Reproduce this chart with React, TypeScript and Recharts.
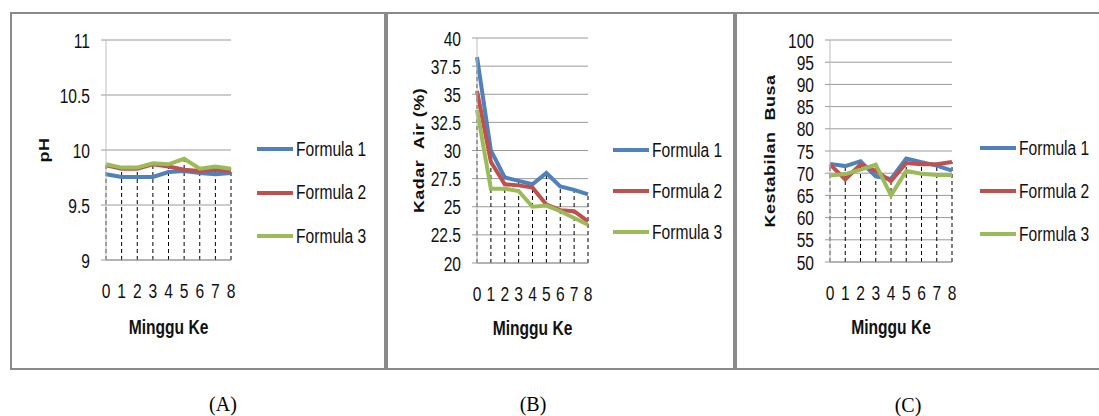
import React from "react";
import { CartesianGrid, Label, Legend, Line, LineChart, ReferenceLine, XAxis, YAxis } from "recharts";

const weeks = ["0", "1", "2", "3", "4", "5", "6", "7", "8"];

// pH
const phF1 = [9.78, 9.755, 9.755, 9.755, 9.8, 9.81, 9.79, 9.78, 9.79];
const phF2 = [9.86, 9.83, 9.83, 9.87, 9.85, 9.82, 9.81, 9.82, 9.81];
const phF3 = [9.87, 9.84, 9.84, 9.88, 9.87, 9.92, 9.83, 9.85, 9.83];
const phTicks = [9, 9.5, 10, 10.5, 11];

// Kadar air (%)
const airF1 = [38.3, 30, 27.6, 27.3, 27.0, 28.0, 26.8, 26.5, 26.1];
const airF2 = [35.3, 29, 27.0, 26.9, 26.7, 25.2, 24.7, 24.6, 23.7];
const airF3 = [33.6, 26.6, 26.6, 26.4, 25.0, 25.1, 24.6, 24.0, 23.4];
const airTicks = [20, 22.5, 25, 27.5, 30, 32.5, 35, 37.5, 40];

// Kestabilan busa
const busaF1 = [72.1, 71.6, 72.7, 69.3, 68.7, 73.3, 72.5, 71.7, 70.6];
const busaF2 = [72.0, 68.6, 72.0, 70.5, 68.2, 72.3, 72.0, 72.0, 72.5];
const busaF3 = [69.5, 69.8, 70.8, 71.9, 65.0, 70.5, 69.9, 69.6, 69.6];
const busaTicks = [50, 55, 60, 65, 70, 75, 80, 85, 90, 95, 100];

const seriesNames = ["Formula 1", "Formula 2", "Formula 3"];
const colors = ["#4F81BD", "#C0504D", "#9BBB59"];

const sans = '"Liberation Sans", Arial, sans-serif';
// no narrow font installed, so squeeze Liberation Sans (the original is also stretched tall)
const SX = 0.78;
const SY = 1.05;

const TOP = 12;
const BOTTOM = 370;
const AXIS_H = 90;

function buildRows(a: number[], b: number[], c: number[]) {
  return weeks.map((w, i) => ({
    week: w,
    f1: a[i],
    f2: b[i],
    f3: c[i],
    top: Math.max(a[i], b[i], c[i]),
  }));
}

const YTick = (props: any) => {
  const { x, y, payload } = props;
  return (
    <text transform={`translate(${x},${y}) scale(${SX},${SY})`} textAnchor="end" dy="0.36em" fontFamily={sans} fontSize={20} fill="#111">
      {payload.value}
    </text>
  );
};

const XTick = (props: any) => {
  const { x, y, payload } = props;
  return (
    <text transform={`translate(${x},${y}) scale(${SX},${SY})`} textAnchor="middle" dy="0.71em" fontFamily={sans} fontSize={20} fill="#111">
      {payload.value}
    </text>
  );
};

interface PanelProps {
  boxLeft: number;
  boxRight: number;
  plotLeft: number;
  plotRight: number;
  plotTop: number;
  plotBottom: number;
  legendLeft: number;
  legendFirst: number;
  legendGap: number;
  yTitle: string;
  yTitleX: number;
  xTitleBase: number;
  ticks: number[];
  rows: ReturnType<typeof buildRows>;
}

function Panel(p: PanelProps) {
  const width = p.boxRight - p.boxLeft;
  const height = BOTTOM - TOP;
  const bottomMargin = height - (p.plotBottom - TOP) - AXIS_H;
  const yMin = p.ticks[0];
  const yMax = p.ticks[p.ticks.length - 1];

  const renderLegend = () => (
    <div>
      {seriesNames.map((name, i) => (
        <div key={name} style={{ display: "flex", alignItems: "center", height: p.legendGap, whiteSpace: "nowrap" }}>
          <span style={{ display: "inline-block", flexShrink: 0, width: 36, height: 4, background: colors[i] }} />
          <span
            style={{
              display: "inline-block",
              flexShrink: 0,
              marginLeft: 3,
              fontFamily: sans,
              fontSize: 20,
              color: "#111",
              transform: `scale(${SX},${SY})`,
              transformOrigin: "left center",
            }}
          >
            {name}
          </span>
        </div>
      ))}
    </div>
  );

  const xTitle = (lp: any) => {
    const vb = lp.viewBox;
    const cx = vb.x + vb.width / 2;
    const base = p.xTitleBase - TOP;
    return (
      <text transform={`translate(${cx},${base}) scale(${SX},${SY})`} textAnchor="middle" fontFamily={sans} fontWeight="bold" fontSize={20} fill="#111">
        Minggu Ke
      </text>
    );
  };

  const yTitle = (lp: any) => {
    const vb = lp.viewBox;
    const cy = vb.y + vb.height / 2;
    const cx = p.yTitleX - p.boxLeft;
    return (
      <text
        transform={`translate(${cx},${cy}) rotate(-90) scale(1,0.85)`}
        textAnchor="middle"
        dy="0.36em"
        fontFamily={sans}
        fontWeight="bold"
        fontSize={18}
        letterSpacing={0.5}
        fill="#111"
        style={{ whiteSpace: "pre" }}
      >
        {p.yTitle}
      </text>
    );
  };

  return (
    <>
      <div
        style={{
          position: "absolute",
          left: p.boxLeft,
          top: TOP,
          width: width,
          height: height,
          border: "2px solid #8a8a8a",
          boxSizing: "border-box",
        }}
      />
      <div style={{ position: "absolute", left: p.boxLeft, top: TOP }}>
        <LineChart
          width={width}
          height={height}
          data={p.rows}
          margin={{ top: p.plotTop - TOP, right: p.boxRight - p.plotRight, left: 0, bottom: bottomMargin }}
        >
          <CartesianGrid vertical={false} stroke="#9a9a9a" />
          <XAxis
            dataKey="week"
            height={AXIS_H}
            interval={0}
            tickLine={false}
            tickSize={0}
            tickMargin={23}
            axisLine={{ stroke: "#9a9a9a" }}
            tick={<XTick />}
          >
            <Label content={xTitle} />
          </XAxis>
          <YAxis
            type="number"
            width={p.plotLeft - p.boxLeft}
            domain={[yMin, yMax]}
            ticks={p.ticks}
            interval={0}
            tickSize={5}
            tickMargin={11}
            axisLine={{ stroke: "#bdbdbd" }}
            tickLine={{ stroke: "#9a9a9a" }}
            tick={<YTick />}
          >
            <Label content={yTitle} />
          </YAxis>
          {p.rows.map((r) => (
            <ReferenceLine
              key={r.week}
              segment={[
                { x: r.week, y: yMin },
                { x: r.week, y: r.top },
              ]}
              stroke="#000"
              strokeWidth={1}
              strokeDasharray="4 3"
            />
          ))}
          <Line dataKey="f1" name={seriesNames[0]} stroke={colors[0]} strokeWidth={4} dot={false} isAnimationActive={false} />
          <Line dataKey="f2" name={seriesNames[1]} stroke={colors[1]} strokeWidth={4} dot={false} isAnimationActive={false} />
          <Line dataKey="f3" name={seriesNames[2]} stroke={colors[2]} strokeWidth={4} dot={false} isAnimationActive={false} />
          <Legend
            layout="vertical"
            align="center"
            verticalAlign="middle"
            content={renderLegend}
            wrapperStyle={{ left: p.legendLeft - p.boxLeft, top: p.legendFirst - TOP - p.legendGap / 2, width: 160, height: p.legendGap * 3 }}
          />
        </LineChart>
      </div>
    </>
  );
}

const captionStyle: React.CSSProperties = {
  position: "absolute",
  top: 392,
  width: 60,
  textAlign: "center",
  fontFamily: '"Liberation Serif", "Times New Roman", serif',
  fontSize: 20,
  lineHeight: "24px",
  color: "#000",
};

export default function App() {
  return (
    <div style={{ position: "absolute", left: 0, top: 0, width: 1099, height: 416, background: "#fff", overflow: "hidden" }}>
      <Panel
        boxLeft={10}
        boxRight={386}
        plotLeft={106}
        plotRight={231}
        plotTop={40}
        plotBottom={260}
        legendLeft={257}
        legendFirst={149}
        legendGap={43.5}
        yTitle="pH"
        yTitleX={43}
        xTitleBase={334}
        ticks={phTicks}
        rows={buildRows(phF1, phF2, phF3)}
      />
      <Panel
        boxLeft={386}
        boxRight={735}
        plotLeft={477}
        plotRight={588}
        plotTop={38}
        plotBottom={263}
        legendLeft={613}
        legendFirst={150}
        legendGap={41}
        yTitle="Kadar  Air (%)"
        yTitleX={418}
        xTitleBase={335}
        ticks={airTicks}
        rows={buildRows(airF1, airF2, airF3)}
      />
      <Panel
        boxLeft={735}
        boxRight={1101}
        plotLeft={830}
        plotRight={952}
        plotTop={40}
        plotBottom={262}
        legendLeft={980}
        legendFirst={148}
        legendGap={43}
        yTitle="Kestabilan  Busa"
        yTitleX={769}
        xTitleBase={334}
        ticks={busaTicks}
        rows={buildRows(busaF1, busaF2, busaF3)}
      />
      <div style={{ ...captionStyle, left: 193 }}>(A)</div>
      <div style={{ ...captionStyle, left: 503 }}>(B)</div>
      <div style={{ ...captionStyle, left: 878, top: 393 }}>(C)</div>
    </div>
  );
}
